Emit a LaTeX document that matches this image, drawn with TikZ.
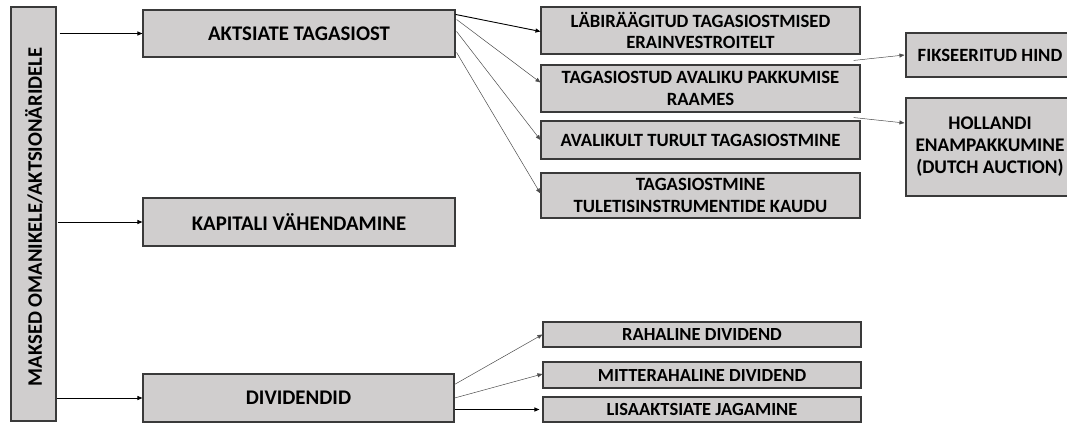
\documentclass[tikz,border=0pt]{standalone}
\usepackage{fontspec}
\setmainfont{Carlito}
\usetikzlibrary{arrows.meta}
\definecolor{boxfill}{HTML}{D0CECE}
\definecolor{boxline}{HTML}{3A3A3A}
\tikzset{
  box/.style={draw=boxline, line width=1.1pt, fill=boxfill, inner sep=1pt, align=center, font=\bfseries},
  bigtxt/.style={font=\fontsize{20.8}{24}\selectfont\bfseries},
  midtxt/.style={font=\fontsize{18.7}{21.5}\selectfont\bfseries},
  hoftxt/.style={font=\fontsize{19.3}{22}\selectfont\bfseries},
  smalltxt/.style={font=\fontsize{18.5}{20}\selectfont\bfseries},
  arr/.style={-{Triangle[length=5pt,width=4pt]}, draw=black, line width=0.9pt},
  thinarr/.style={-{Triangle[length=5pt,width=4pt]}, draw=black!70, line width=0.5pt},
}
\begin{document}
\begin{tikzpicture}[x=1pt,y=-1pt]
\useasboundingbox (0,0) rectangle (1067,423);
% left vertical box
\node[box, minimum width=45pt, minimum height=414pt] (L) at (33.5,214) {};
\node[font=\fontsize{20.6}{24}\selectfont\bfseries, rotate=90] (Lt) at (34,217) {MAKSED OMANIKELE/AKTSIONÄRIDELE};
% main boxes
\node[box, bigtxt, minimum width=312pt, minimum height=47pt] (A) at (299,33.5) {AKTSIATE TAGASIOST};
\node[box, bigtxt, minimum width=312pt, minimum height=48pt] (K) at (299,222) {KAPITALI VÄHENDAMINE};
\node[box, bigtxt, minimum width=311pt, minimum height=48pt] (D) at (298.5,398) {DIVIDENDID};
% buyback types
\node[box, midtxt, minimum width=319pt, minimum height=47pt] (R1) at (700.5,30.5) {LÄBIRÄÄGITUD TAGASIOSTMISED\\ERAINVESTROITELT};
\node[box, midtxt, minimum width=319pt, minimum height=47pt] (R2) at (700.5,88.5) {TAGASIOSTUD AVALIKU PAKKUMISE\\RAAMES};
\node[box, midtxt, minimum width=319pt, minimum height=38pt] (R3) at (700.5,140) {AVALIKULT TURULT TAGASIOSTMINE};
\node[box, midtxt, minimum width=319pt, minimum height=45pt] (R4) at (700.5,195.5) {TAGASIOSTMINE\\TULETISINSTRUMENTIDE KAUDU};
% tender offer types (boxes run past the right edge)
\node[box, midtxt, minimum width=168pt, minimum height=44pt] (F) at (990,55) {FIKSEERITUD HIND};
\node[box, hoftxt, minimum width=168pt, minimum height=98pt] (H) at (990,147) {HOLLANDI\\ENAMPAKKUMINE\\(DUTCH AUCTION)};
% dividend types
\node[box, smalltxt, minimum width=318pt, minimum height=25pt] (D1) at (702,334.5) {RAHALINE DIVIDEND};
\node[box, smalltxt, minimum width=318pt, minimum height=26pt] (D2) at (702,375) {MITTERAHALINE DIVIDEND};
\node[box, smalltxt, minimum width=318pt, minimum height=25pt] (D3) at (702,409.5) {LISAAKTSIATE JAGAMINE};
% connectors from left box
\draw[arr] ([xshift=3pt]L.east |- A.west) -- (A.west);
\draw[arr] ([xshift=1pt]L.east |- K.west) -- (K.west);
\draw[arr] (L.east |- D.west) -- (D.west);
% from AKTSIATE TAGASIOST
\draw[arr] ([yshift=-5pt]A.north east) -- ([yshift=-1pt]R1.west);
\draw[thinarr] ([yshift=-10pt,xshift=1pt]A.north east) -- ([yshift=6pt]R2.west);
\draw[thinarr] ([yshift=-22pt,xshift=1pt]A.north east) -- (R3.west);
\draw[thinarr] ([yshift=-43pt,xshift=1pt]A.north east) -- ([yshift=2pt]R4.west);
% to tender offer types
\draw[thinarr] ([xshift=-7pt,yshift=4pt]R2.north east) -- ([xshift=-1pt]F.west);
\draw[thinarr] ([xshift=-7pt,yshift=-5pt]R2.south east) -- ([xshift=-1pt,yshift=24pt]H.west);
% from DIVIDENDID
\draw[thinarr] ([yshift=-11pt]D.north east) -- (D1.west);
\draw[thinarr] ([yshift=0pt]D.east) -- ([yshift=1pt]D2.west);
\draw[arr] (D.east |- D3.west) -- ([xshift=-3pt]D3.west);
\end{tikzpicture}
\end{document}
